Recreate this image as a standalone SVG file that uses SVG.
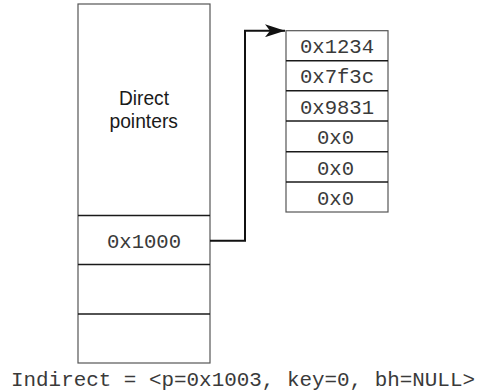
<svg xmlns="http://www.w3.org/2000/svg" width="481" height="391" viewBox="0 0 481 391">
<style>
.box{fill:#fff;stroke:#555;stroke-width:1.2}
.div{stroke:#1a1a1a;stroke-width:1.6}
.mono{font-family:"Liberation Mono","Courier New",monospace;font-size:20.6px;fill:#3a3a3a;text-anchor:middle}
.sans{font-family:"Liberation Sans",Arial,sans-serif;font-size:19.5px;fill:#1a1a1a;text-anchor:middle}
.conn{fill:none;stroke:#111;stroke-width:2}
</style>
<defs>
<marker id="arr" markerUnits="userSpaceOnUse" markerWidth="20" markerHeight="13" refX="20" refY="6.5" orient="auto">
<path d="M0,0 L20,6.5 L0,13 L5,6.5 Z" fill="#111"/>
</marker>
</defs>
<g id="inode">
<rect class="box" x="78" y="4" width="132" height="359"/>
<line class="div" x1="78" y1="215.5" x2="210" y2="215.5"/>
<line class="div" x1="78" y1="264.5" x2="210" y2="264.5"/>
<line class="div" x1="78" y1="314" x2="210" y2="314"/>
<text class="sans" x="144" y="105" textLength="50" lengthAdjust="spacingAndGlyphs">Direct</text>
<text class="sans" x="143.7" y="128.3" textLength="68.5" lengthAdjust="spacingAndGlyphs">pointers</text>
<text class="mono" x="144" y="248">0x1000</text>
</g>
<g id="block">
<rect class="box" x="286" y="30.7" width="102" height="181.3"/>
<line class="div" x1="286" y1="60.7" x2="388" y2="60.7"/>
<line class="div" x1="286" y1="90.7" x2="388" y2="90.7"/>
<line class="div" x1="286" y1="121" x2="388" y2="121"/>
<line class="div" x1="286" y1="151.7" x2="388" y2="151.7"/>
<line class="div" x1="286" y1="182" x2="388" y2="182"/>
<text class="mono" x="337" y="53.3">0x1234</text>
<text class="mono" x="337" y="83.3">0x7f3c</text>
<text class="mono" x="337" y="113.5">0x9831</text>
<text class="mono" x="335.5" y="144">0x0</text>
<text class="mono" x="335.5" y="174.5">0x0</text>
<text class="mono" x="335.5" y="204.5">0x0</text>
</g>
<g id="connectors">
<polyline class="conn" points="210,240.7 245,240.7 245,30.7 285,30.7" marker-end="url(#arr)"/>
</g>
<g id="caption">
<text class="mono" x="243" y="386" style="font-size:20.8px" textLength="464" lengthAdjust="spacingAndGlyphs">Indirect = &lt;p=0x1003, key=0, bh=NULL&gt;</text>
</g>
</svg>
